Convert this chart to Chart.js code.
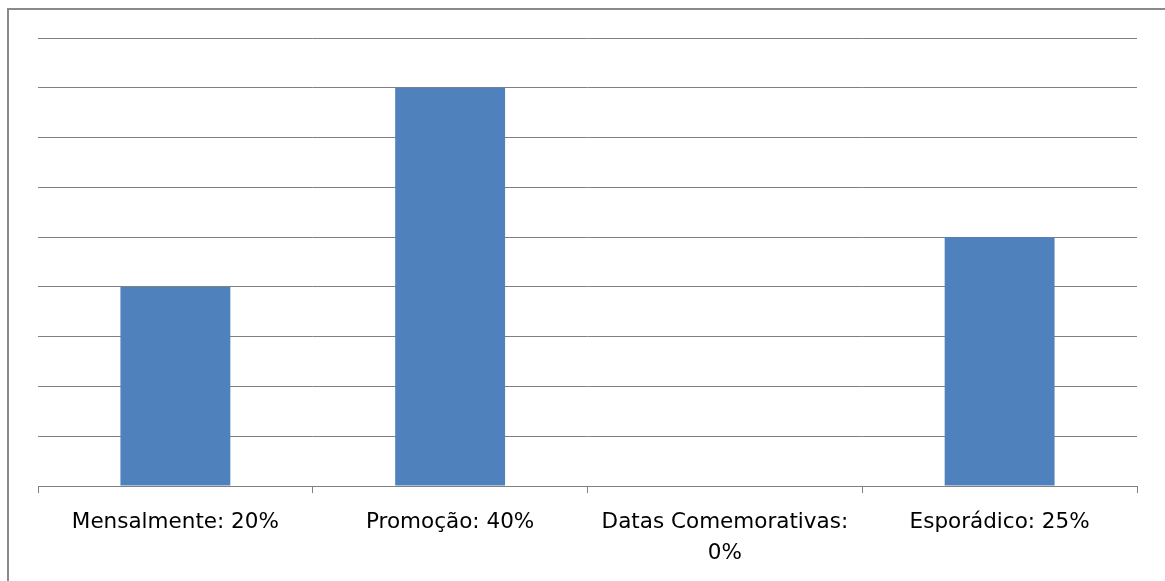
<!DOCTYPE html>
<html lang="pt">
<head>
  <meta charset="UTF-8">
  <title>Frequência</title>
  <script src="https://cdn.jsdelivr.net/npm/chart.js"></script>
  <style>
    html, body {
      margin: 0;
      padding: 0;
      background: #fff;
      overflow: hidden;
    }
    .frame {
      position: absolute;
      left: 7px;
      top: 8px;
      width: 1200px;
      height: 620px;
      border: 2px solid #8a8a8a;
      box-sizing: border-box;
    }
    .wrap {
      position: absolute;
      left: 0;
      top: 0;
      width: 1165px;
      height: 584px;
    }
  </style>
</head>
<body>
  <div class="frame"></div>
  <div class="wrap"><canvas id="chart"></canvas></div>
  <script>
    const categories = ["Mensalmente", "Promoção", "Datas Comemorativas", "Esporádico"];
    const values = [20, 40, 0, 25];
    const yMax = 45;
    const yStep = 5;

    // label text like "Mensalmente: 20%", long one on two lines
    const labels = categories.map((c, i) => {
      const t = c + ": " + values[i] + "%";
      return t.length > 20 ? [c + ":", values[i] + "%"] : t;
    });

    new Chart(document.getElementById("chart"), {
      type: "bar",
      data: {
        labels: labels,
        datasets: [{
          data: values,
          backgroundColor: "#4F81BD",
          borderWidth: 0,
          barPercentage: 0.4,
          categoryPercentage: 1
        }]
      },
      options: {
        responsive: true,
        maintainAspectRatio: false,
        animation: false,
        layout: { padding: { left: 38, right: 28, top: 38, bottom: 1 } },
        plugins: {
          legend: { display: false },
          tooltip: { enabled: false }
        },
        scales: {
          x: {
            offset: true,
            grid: {
              offset: true,
              drawOnChartArea: false,
              drawTicks: true,
              tickLength: 7,
              color: "#808080",
              lineWidth: 1
            },
            border: { display: true, color: "#808080", width: 1 },
            ticks: {
              autoSkip: false,
              maxRotation: 0,
              padding: 14,
              color: "#000",
              font: { family: "'DejaVu Sans', sans-serif", size: 21.5, lineHeight: 1.44 }
            }
          },
          y: {
            min: 0,
            max: yMax,
            ticks: { display: false, stepSize: yStep },
            grid: { color: "#808080", lineWidth: 1, drawTicks: false },
            border: { display: false }
          }
        }
      }
    });
  </script>
</body>
</html>
